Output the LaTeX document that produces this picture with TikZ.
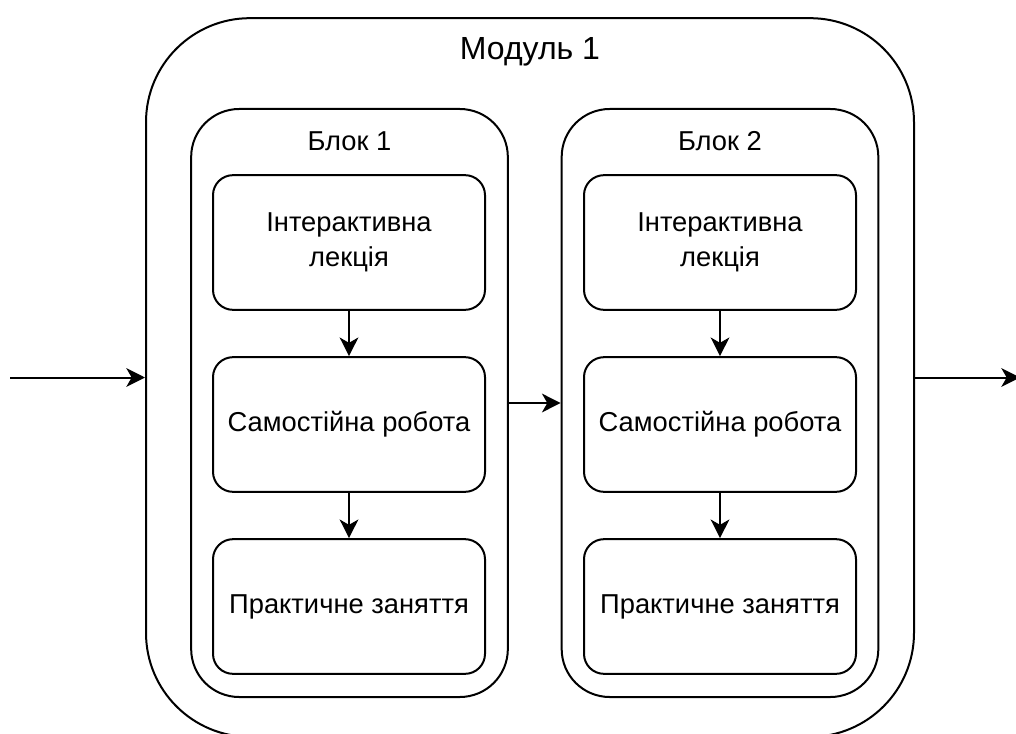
\documentclass[tikz,border=0pt]{standalone}
\usepackage{fontspec}
\setmainfont{Liberation Sans}
\usetikzlibrary{positioning,arrows.meta}

\begin{document}
\begin{tikzpicture}[x=0.75pt, y=-0.75pt, line width=1.5pt, node distance=34pt,
  every node/.style={align=center, font=\fontsize{20.5}{26}\selectfont},
  module/.style={draw, rounded corners=78pt, minimum width=576pt, minimum height=539pt},
  block/.style={draw, rounded corners=36pt, minimum width=237.5pt, minimum height=441pt},
  lesson/.style={draw, rounded corners=15pt, minimum width=204pt, minimum height=101pt},
  >={Stealth[length=14pt, width=14pt, inset=4pt]}]
  \useasboundingbox (0,0) rectangle (1016,734);

  \node (modul) [module] at (530,377.5) {};
  \node (modtitle) at (530,52) {\fontsize{24}{28}\selectfont Модуль 1};

  \node (blok1) [block] at (349.5,403) {};
  \node (blok2) [block] at (720,403) {};
  \node (title1) at (349.5,141) {Блок 1};
  \node (title2) at (720,141) {Блок 2};

  % Block 1
  \node (lek1) [lesson] at (349,242.5) {\raisebox{-4pt}{\shortstack{Інтерактивна\\[4pt]лекція}}};
  \node (sam1) [lesson, below=of lek1] {Самостійна робота};
  \node (prak1) [lesson, below=of sam1] {Практичне заняття};

  % Block 2
  \node (lek2) [lesson] at (720,242.5) {\raisebox{-4pt}{\shortstack{Інтерактивна\\[4pt]лекція}}};
  \node (sam2) [lesson, below=of lek2] {Самостійна робота};
  \node (prak2) [lesson, below=of sam2] {Практичне заняття};

  \coordinate (vkhid) at (10,377.5);
  \coordinate (vykhid) at (1020,377.5);

  % Arrows
  \draw[->] (vkhid) -- (modul.west);
  \draw[->] (modul.east) -- (vykhid);
  \draw[->] (blok1.east) -- (blok2.west);
  \draw[->] (lek1) -- (sam1);
  \draw[->] (sam1) -- (prak1);
  \draw[->] (lek2) -- (sam2);
  \draw[->] (sam2) -- (prak2);
\end{tikzpicture}
\end{document}
